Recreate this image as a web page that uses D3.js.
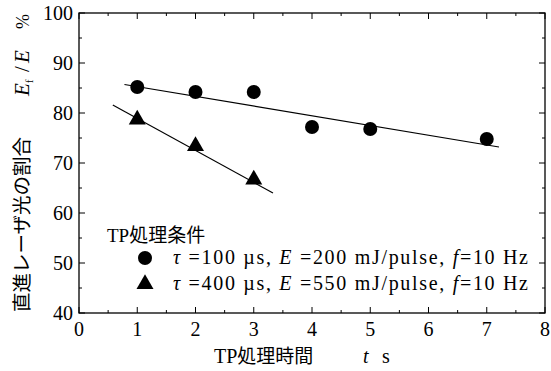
<!DOCTYPE html>
<html lang="ja">
<head>
<meta charset="UTF-8">
<title>直進レーザ光の割合</title>
<script src="https://d3js.org/d3.v7.min.js"></script>
<style>
  body { margin: 0; padding: 0; background: #fff; }
  svg { display: block; }
  text { font-family: "Liberation Serif", "DejaVu Serif", "Noto Sans CJK JP", serif; fill: #000; }
  .jp { font-family: "Noto Sans CJK JP", sans-serif; }
</style>
</head>
<body>
<svg width="551" height="371"></svg>
<script>
// data
const timeA = [1, 2, 3, 4, 5, 7];
const ratioA = [85.2, 84.2, 84.2, 77.2, 76.8, 74.8];
const timeB = [1, 2, 3];
const ratioB = [78.5, 73.2, 66.5];
// straight fit lines, end points in data units
const fitA = [[0.78, 85.7], [7.21, 73.2]];
const fitB = [[0.58, 81.6], [3.33, 64.0]];
const xTicks = [0, 1, 2, 3, 4, 5, 6, 7, 8];
const yTicks = [40, 50, 60, 70, 80, 90, 100];
const legendLabels = [
  {tau: "100", e: "200"},
  {tau: "400", e: "550"}
];

const svg = d3.select("svg");
const pLeft = 79, pRight = 545, pTop = 13, pBottom = 313;

const x = d3.scaleLinear().domain([0, 8]).range([pLeft, pRight]);
const y = d3.scaleLinear().domain([40, 100]).range([pBottom, pTop]);

// frame
svg.append("rect")
  .attr("x", pLeft).attr("y", pTop)
  .attr("width", pRight - pLeft).attr("height", pBottom - pTop)
  .attr("fill", "none").attr("stroke", "#000").attr("stroke-width", 1.3);

// ticks, all pointing inward
const tk = svg.append("g").attr("stroke", "#000").attr("stroke-width", 1);
d3.range(0, 8.01, 0.5).forEach(v => {
  const len = Number.isInteger(v) ? 6 : 3;
  tk.append("line").attr("x1", x(v)).attr("x2", x(v)).attr("y1", pBottom).attr("y2", pBottom - len);
  tk.append("line").attr("x1", x(v)).attr("x2", x(v)).attr("y1", pTop).attr("y2", pTop + len);
});
d3.range(40, 100.01, 5).forEach(v => {
  const len = v % 10 === 0 ? 6 : 3;
  tk.append("line").attr("y1", y(v)).attr("y2", y(v)).attr("x1", pLeft).attr("x2", pLeft + len);
  tk.append("line").attr("y1", y(v)).attr("y2", y(v)).attr("x1", pRight).attr("x2", pRight - len);
});

// tick labels
svg.append("g").selectAll("text").data(xTicks).join("text")
  .attr("x", d => x(d)).attr("y", 336)
  .attr("text-anchor", "middle").attr("font-size", 20)
  .text(d => d);
svg.append("g").selectAll("text").data(yTicks).join("text")
  .attr("x", 73).attr("y", d => y(d) + 7)
  .attr("text-anchor", "end").attr("font-size", 20)
  .text(d => d);

// fit lines
const line = d3.line().x(d => x(d[0])).y(d => y(d[1]));
[fitA, fitB].forEach(f => {
  svg.append("path").attr("d", line(f))
    .attr("fill", "none").attr("stroke", "#000").attr("stroke-width", 1.2);
});

// markers
svg.append("g").selectAll("circle").data(timeA).join("circle")
  .attr("cx", d => x(d)).attr("cy", (d, i) => y(ratioA[i]))
  .attr("r", 7).attr("fill", "#000");
const tri = d3.symbol().type(d3.symbolTriangle).size(125);
svg.append("g").selectAll("path").data(timeB).join("path")
  .attr("d", tri)
  .attr("transform", (d, i) => `translate(${x(d)},${y(ratioB[i]) - 1})`)
  .attr("fill", "#000");

// legend
svg.append("text").attr("x", 107).attr("y", 242).attr("font-size", 19)
  .html('TP<tspan class="jp">処理条件</tspan>');
legendLabels.forEach((r, i) => {
  const yy = 258 + i * 26;
  if (i === 0) {
    svg.append("circle").attr("cx", 145).attr("cy", yy).attr("r", 7).attr("fill", "#000");
  } else {
    svg.append("path").attr("d", tri).attr("transform", `translate(145,${yy})`).attr("fill", "#000");
  }
  const t = svg.append("text").attr("x", 173).attr("y", yy + 6).attr("font-size", 20)
    .attr("textLength", 355).attr("lengthAdjust", "spacing");
  t.append("tspan").attr("font-style", "italic").text("τ");
  t.append("tspan").text(` =${r.tau} µs, `);
  t.append("tspan").attr("font-style", "italic").text("E");
  t.append("tspan").text(` =${r.e} mJ/pulse, `);
  t.append("tspan").attr("font-style", "italic").text("f");
  t.append("tspan").text("=10 Hz");
});

// x label
const xl = svg.append("text").attr("x", 214).attr("y", 363).attr("font-size", 20);
xl.append("tspan").text("TP");
xl.append("tspan").attr("class", "jp").attr("font-size", 19).text("処理時間");
xl.append("tspan").attr("x", 363).attr("font-style", "italic").text("t");
xl.append("tspan").attr("x", 382).text("s");

// y label, rotated
const yl = svg.append("text")
  .attr("transform", "translate(29,312) rotate(-90)")
  .attr("font-size", 19.5);
yl.append("tspan").attr("class", "jp").text("直進レーザ光の割合");
yl.append("tspan").attr("x", 216).attr("font-size", 21).attr("font-style", "italic").text("E");
yl.append("tspan").attr("font-size", 11).attr("dy", 4).text("f");
yl.append("tspan").attr("font-size", 21).attr("x", 240).attr("dy", -4).text("/");
yl.append("tspan").attr("font-size", 21).attr("x", 249).attr("font-style", "italic").text("E");
yl.append("tspan").attr("font-size", 18).attr("x", 283).text("%");
</script>
</body>
</html>
